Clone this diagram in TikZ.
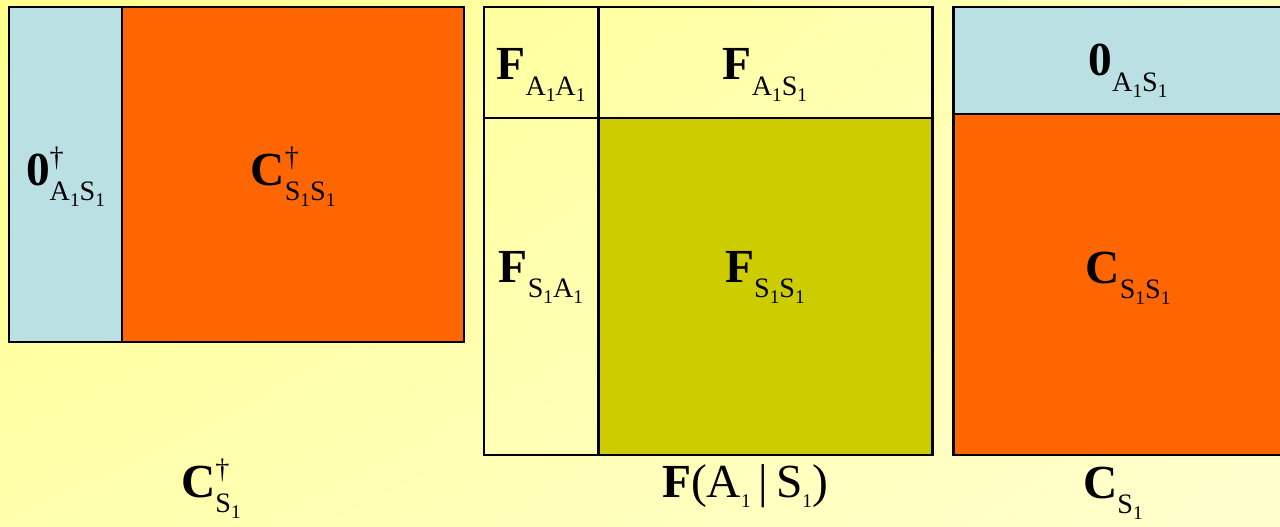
\documentclass[tikz,border=0pt]{standalone}
\usepackage{fontspec}
\setmainfont{Liberation Serif}
\usetikzlibrary{positioning, shadings}
\definecolor{zeroblue}{HTML}{BAE0E4}
\definecolor{cblock}{HTML}{FF6600}
\definecolor{fblock}{HTML}{CCCC00}
\definecolor{bgtl}{HTML}{FFFF8C}
\definecolor{bgtr}{HTML}{FFFFBC}
\definecolor{bgbl}{HTML}{FFFFAC}
\definecolor{bgbr}{HTML}{FFFFCE}

\newcommand{\bigfs}{\fontsize{27}{30}\selectfont}
\newcommand{\subfs}{\fontsize{16}{18}\selectfont}
\newcommand{\idxfs}{\fontsize{11}{13}\selectfont}
% letter carrying the index 1
\newcommand{\ix}[1]{#1\raisebox{-0.22em}{\idxfs 1}}
% bold symbol with superscript and subscript
\newcommand{\blk}[3]{\textbf{#1}\rlap{\raisebox{0.4em}{\subfs #2}}\raisebox{-0.32em}{\subfs #3}}

\begin{document}
\begin{tikzpicture}[
  cell/.style={draw=black, line width=1.7pt, inner sep=0pt, outer sep=0pt},
  lab/.style={font=\bigfs, inner sep=0pt, anchor=base}
]
  \clip (0,0) rectangle (25.6,-10.54);
  % background
  \shade[upper left=bgtl, upper right=bgtr, lower left=bgbl, lower right=bgbr]
    (0,0) rectangle (25.6,-10.54);

  % C dagger
  \node[cell, fill=zeroblue, anchor=north west, minimum width=2.26cm, minimum height=6.70cm]
    (zas) at (0.18,-0.14) {};
  \node[cell, fill=cblock, minimum width=6.84cm, minimum height=6.70cm, right=0pt of zas]
    (cssd) {};

  % F(A|S)
  \node[cell, anchor=north west, minimum width=2.28cm, minimum height=2.22cm]
    (faa) at (9.68,-0.14) {};
  \node[cell, minimum width=6.68cm, minimum height=2.22cm, right=0pt of faa] (fas) {};
  \node[cell, minimum width=2.28cm, minimum height=6.74cm, below=0pt of faa] (fsa) {};
  \node[cell, fill=fblock, minimum width=6.68cm, minimum height=6.74cm, below=0pt of fas]
    (fss) {};

  % C
  \node[cell, fill=zeroblue, anchor=north west, minimum width=7.0cm, minimum height=2.14cm]
    (zasr) at (19.06,-0.14) {};
  \node[cell, fill=cblock, minimum width=7.0cm, minimum height=6.82cm, below=0pt of zasr]
    (css) {};

  % block texts
  \node[lab] (tzas) at ([yshift=-0.21cm]zas.center) {\blk{0}{\textdagger}{\ix{A}\ix{S}}};
  \node[lab] (tcssd) at ([yshift=-0.21cm]cssd.center) {\blk{C}{\textdagger}{\ix{S}\ix{S}}};
  \node[lab] (tfaa) at ([yshift=-0.35cm]faa.center) {\blk{F}{}{\ix{A}\ix{A}}};
  \node[lab] (tfas) at ([yshift=-0.35cm]fas.center) {\blk{F}{}{\ix{A}\ix{S}}};
  \node[lab] (tfsa) at ([yshift=0.09cm]fsa.center) {\blk{F}{}{\ix{S}\ix{A}}};
  \node[lab] (tfss) at ([yshift=0.09cm]fss.center) {\blk{F}{}{\ix{S}\ix{S}}};
  \node[lab] (tzasr) at ([yshift=-0.31cm]zasr.center) {\blk{0}{}{\ix{A}\ix{S}}};
  \node[lab] (tcss) at ([yshift=0.03cm]css.center) {\blk{C}{}{\ix{S}\ix{S}}};

  % names underneath
  \node[lab] (cdaglab) at (4.22,-9.94) {\blk{C}{\textdagger}{\ix{S}}};
  \node[lab] (flab) at (14.9,-9.94)
    {\textbf{F}(A\raisebox{-0.22em}{\idxfs 1}\,|\,S\raisebox{-0.22em}{\idxfs 1})};
  \node[lab] (clab) at (22.26,-9.96) {\blk{C}{}{\ix{S}}};
\end{tikzpicture}
\end{document}
